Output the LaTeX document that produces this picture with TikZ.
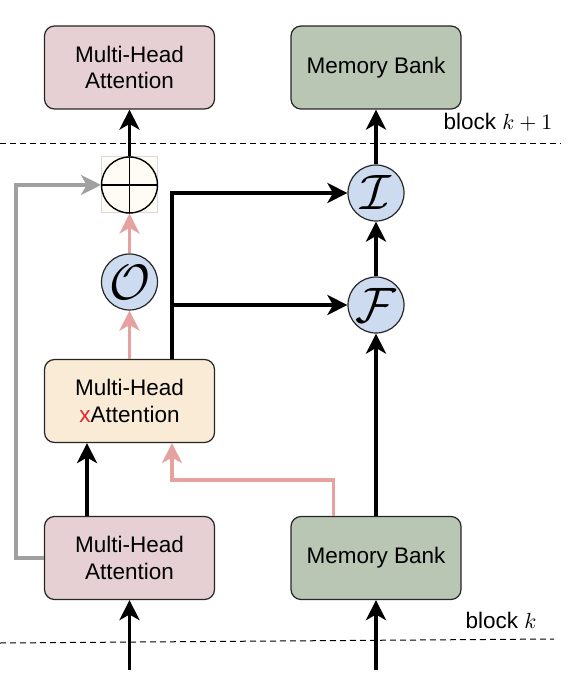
\documentclass[tikz,border=0pt]{standalone}
\usepackage{fontspec}
\setmainfont{Liberation Sans}
\usepackage{xcolor}
\usepackage{tikz}
\usetikzlibrary{shapes.geometric, arrows.meta, positioning, calc}

\definecolor{mhafill}{HTML}{E6D0D4}
\definecolor{memfill}{HTML}{B9C6B4}
\definecolor{xattnfill}{HTML}{F9EBD6}
\definecolor{opfill}{HTML}{CCDBEF}
\definecolor{pluscell}{HTML}{FFFBF5}
\definecolor{pinkline}{HTML}{E5A29E}
\definecolor{grayline}{HTML}{A0A0A0}
\definecolor{xred}{HTML}{E0242F}

\begin{document}
\begin{tikzpicture}[
        x=0.5pt, y=0.5pt,
        block/.style={
            rectangle,
            rounded corners=5pt,
            draw=black!85,
            line width=0.6pt,
            minimum width=85pt,
            minimum height=41.5pt,
            align=center,
            font=\fontsize{11.25}{13.3}\selectfont
        },
        mhanode/.style={block, fill=mhafill},
        memnode/.style={block, fill=memfill},
        xattnnode/.style={block, fill=xattnfill},
        opnode/.style={
            circle,
            draw=black!85,
            line width=0.6pt,
            fill=opfill,
            minimum size=28pt,
            inner sep=0pt,
            font=\fontsize{23}{23}\selectfont
        },
        flow/.style={
            line width=1.8pt,
            -{Stealth[length=10pt, width=10pt, inset=2.8pt]}
        },
        blackflow/.style={flow, black},
        pinkflow/.style={flow, pinkline},
        grayflow/.style={flow, grayline},
        blocklabel/.style={font=\fontsize{11.25}{13.3}\selectfont}
    ]
    \useasboundingbox (0,0) rectangle (580,-694);

    % Block k+1 row
    \node[mhanode] (mhatop) at (129.5,-67.5) {Multi-Head\\Attention};
    \node[memnode] (memtop) at (376,-67.5) {Memory Bank};

    % Block k row
    \node[mhanode] (mhabot) at (129.5,-558) {Multi-Head\\Attention};
    \node[memnode] (membot) at (376,-558) {Memory Bank};
    \node[xattnnode] (xattn) at (129.5,-401) {Multi-Head\\\textcolor{xred}{x}Attention};

    % Operators
    \node[opnode] (opO) at (129.5,-282) {$\mathcal{O}$};
    \node[opnode] (opF) at (376,-305) {$\mathcal{F}$};
    \node[opnode] (opI) at (376,-193) {$\mathcal{I}$};

    % Sum cell with circled plus
    \node[rectangle, draw=black!15, line width=0.5pt, fill=pluscell,
        minimum size=28pt, inner sep=0pt] (pluscellbox) at (129.5,-185) {};
    \node[circle, draw=black, line width=0.7pt, minimum size=28pt, inner sep=0pt] (oplus) at (pluscellbox.center) {};
    \draw[line width=0.7pt] (oplus.north) -- (oplus.south);
    \draw[line width=0.7pt] (oplus.west) -- (oplus.east);

    % Block separators
    \draw[dashed, line width=0.5pt, dash pattern=on 3pt off 2pt] (0,-144) -- (561,-144);
    \draw[dashed, line width=0.5pt, dash pattern=on 3pt off 2pt] (0,-643) -- (554,-639);
    \node[blocklabel] (labeltop) at (498,-122) {block $k+1$};
    \node[blocklabel] (labelbot) at (501,-620) {block $k$};

    % Inputs
    \coordinate (inleft) at (129.5,-670);
    \coordinate (inright) at (376,-670);
    \draw[blackflow] (inleft) -- (mhabot.south);
    \draw[blackflow] (inright) -- (membot.south);

    % Main connectors
    \draw[blackflow] ([xshift=-21.25pt]mhabot.north) -- ([xshift=-21.25pt]xattn.south);
    \draw[pinkflow] ([xshift=-21.25pt]membot.north) -- ++(0,18pt) -| ([xshift=21.25pt]xattn.south);
    \draw[pinkflow] (xattn.north) -- (opO.south);
    \draw[pinkflow] (opO.north) -- (pluscellbox.south);
    \draw[blackflow] (pluscellbox.north) -- (mhatop.south);
    \draw[blackflow] ([xshift=21.25pt]xattn.north) |- (opI.west);
    \draw[blackflow] ([xshift=21.25pt]xattn.north) |- (opF.west);
    \draw[blackflow] (membot.north) -- (opF.south);
    \draw[blackflow] (opF.north) -- (opI.south);
    \draw[blackflow] (opI.north) -- (memtop.south);

    % Residual path
    \coordinate (rescorner) at (16,-185);
    \draw[grayflow] (mhabot.west) -| (rescorner) -- (pluscellbox.west);

\end{tikzpicture}
\end{document}
